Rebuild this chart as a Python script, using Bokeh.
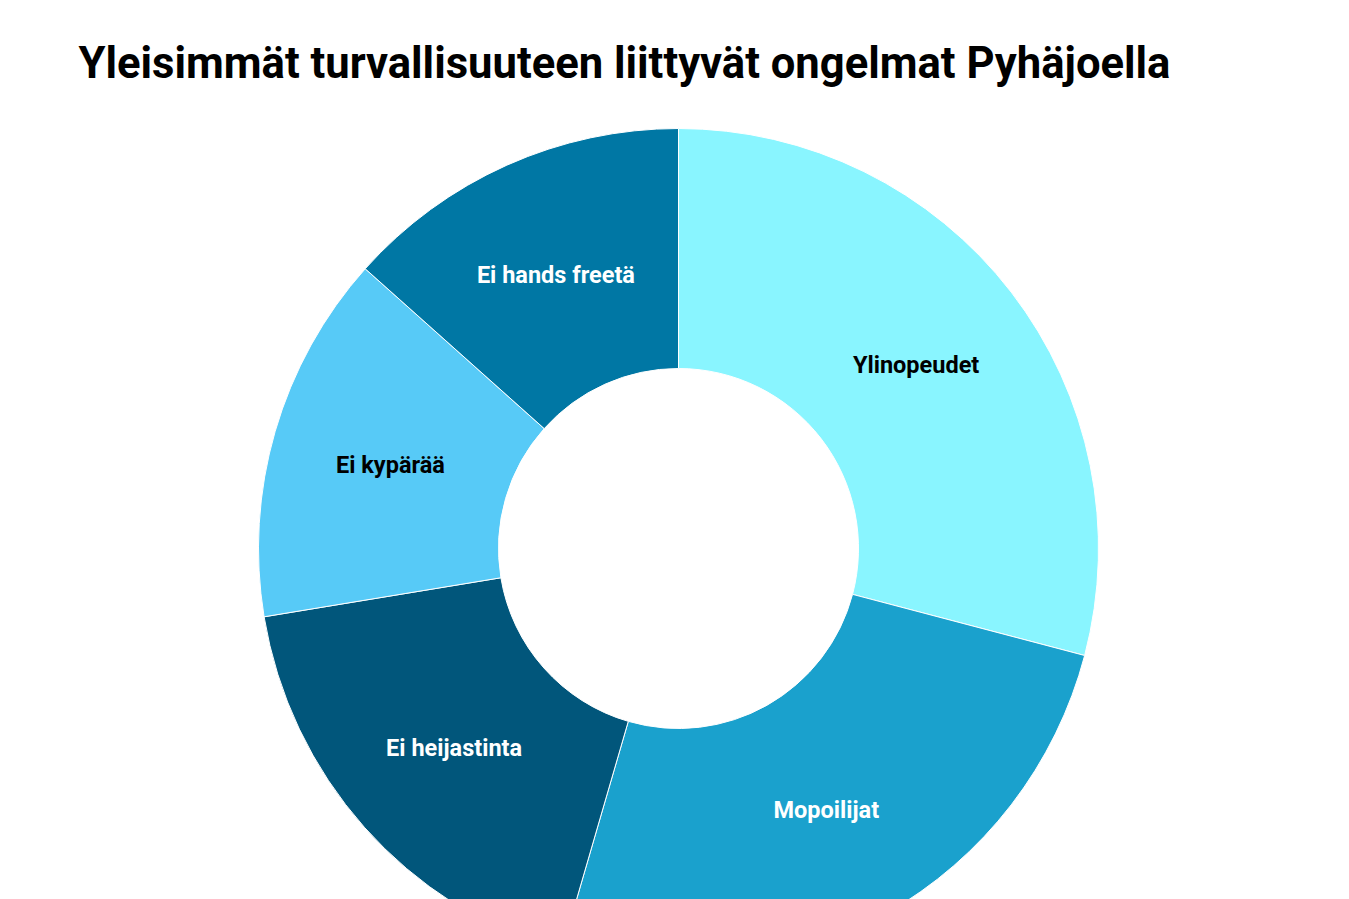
import numpy as np
from bokeh.plotting import figure
from bokeh.models import ColumnDataSource, Range1d, Label
from bokeh.embed import file_html
from bokeh.resources import INLINE

title = "Yleisimmät turvallisuuteen liittyvät ongelmat Pyhäjoella"
categories = ["Ylinopeudet", "Mopoilijat", "Ei heijastinta", "Ei kypärää", "Ei hands freetä"]
values = [29.1, 25.4, 17.9, 14.2, 13.4]
colors = ["#89F5FF", "#1AA1CD", "#01567B", "#57CAF7", "#0077A4"]
label_colors = ["#000000", "#FFFFFF", "#FFFFFF", "#000000", "#FFFFFF"]

W, H = 1340, 899
cx, cy = 678, 548  # centre of donut in canvas pixels from top-left
p = figure(width=W, height=H, output_backend="svg", toolbar_location=None,
           x_range=Range1d(-cx, W - cx), y_range=Range1d(cy - H, cy),
           min_border=0, outline_line_color=None)
p.axis.visible = False
p.grid.visible = False

vals = np.array(values, dtype=float)
frac = vals / vals.sum()
theta1 = np.cumsum(frac) * 2 * np.pi
theta0 = theta1 - frac * 2 * np.pi
start = np.pi / 2 - theta1
end = np.pi / 2 - theta0
mid = (start + end) / 2
r_in, r_out = 180, 420
r_lab = (r_in + r_out) / 2

src = ColumnDataSource(dict(cat=categories, start=start, end=end, color=colors,
                            lx=r_lab * np.cos(mid), ly=r_lab * np.sin(mid),
                            lc=label_colors))
p.annular_wedge(x=0, y=0, inner_radius=r_in, outer_radius=r_out,
                start_angle="start", end_angle="end", fill_color="color",
                line_color="white", line_width=1, source=src)
p.text(x="lx", y="ly", text="cat", text_color="lc", text_align="center",
       text_baseline="middle", text_font_size="23.5px", text_font_style="bold",
       text_font={"value": "Roboto"}, source=src)

p.add_layout(Label(x=78, y=H - 63, x_units="screen", y_units="screen", text=title,
                   text_font="Roboto", text_font_style="bold", text_font_size="43.6px",
                   text_color="#000000", text_baseline="alphabetic"))

open("out.html", "w").write(file_html(p, INLINE))
